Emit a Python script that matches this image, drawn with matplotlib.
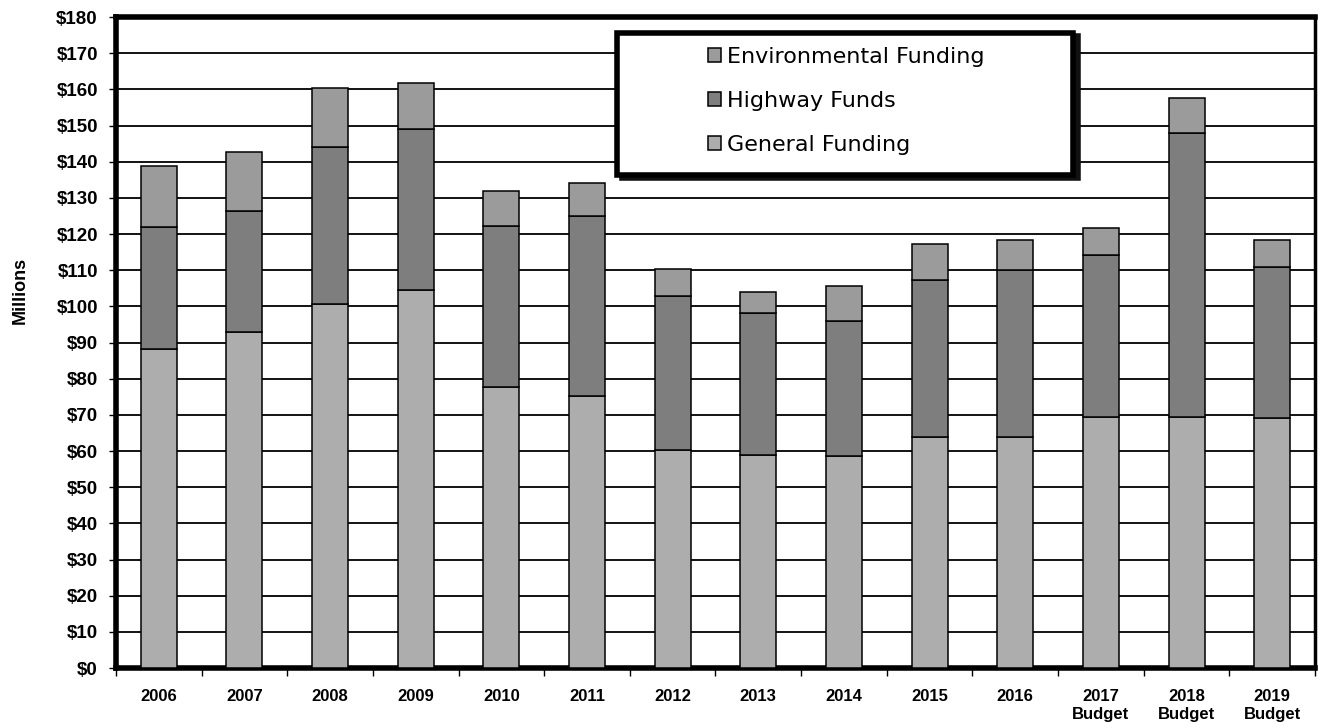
import matplotlib
matplotlib.use("Agg")
import numpy as np
import matplotlib.pyplot as plt
from matplotlib.patches import Rectangle

# Category labels (x axis)
years = ["2006", "2007", "2008", "2009", "2010", "2011", "2012", "2013",
         "2014", "2015", "2016", "2017\nBudget", "2018\nBudget", "2019\nBudget"]

# Stacked segments, in $ millions
general_funding = [88.1, 93.0, 100.7, 104.5, 77.7, 75.1, 60.2, 58.9,
                   58.6, 63.8, 63.8, 69.3, 69.3, 69.2]
highway_funds = [33.8, 33.3, 43.5, 44.5, 44.6, 49.8, 42.6, 39.3,
                 37.4, 43.5, 46.2, 45.0, 78.5, 41.7]
environmental_funding = [16.8, 16.4, 16.3, 12.8, 9.5, 9.1, 7.4, 5.7,
                         9.5, 9.9, 8.4, 7.5, 9.7, 7.5]

y_ticks = list(range(0, 181, 10))

c_general = "#adadad"
c_highway = "#7e7e7e"
c_env = "#9b9b9b"

fig = plt.figure(figsize=(13.22, 7.28), dpi=100)
ax = fig.add_axes([0.0877, 0.0824, 0.9070, 0.8942])

x = np.arange(len(years))
w = 0.42
general = np.array(general_funding)
highway = np.array(highway_funds)
env = np.array(environmental_funding)

ax.bar(x, general, w, color=c_general, edgecolor="black", linewidth=1.1, zorder=3, label="General Funding")
ax.bar(x, highway, w, bottom=general, color=c_highway, edgecolor="black", linewidth=1.1, zorder=3, label="Highway Funds")
ax.bar(x, env, w, bottom=general + highway, color=c_env, edgecolor="black", linewidth=1.1, zorder=3, label="Environmental Funding")

ax.set_xlim(-0.48, 13.43)
ax.set_ylim(0, 180)

# grid
ax.set_yticks(y_ticks)
ax.set_yticklabels([f"${v}" for v in y_ticks], fontsize=13.5, fontweight="bold",
                   family=["Liberation Sans", "DejaVu Sans"])
ax.yaxis.grid(True, color="black", linewidth=1.3, zorder=0)
ax.tick_params(axis="y", length=5, width=1, pad=8)

ax.set_xticks(x)
ax.set_xticklabels(years, fontsize=12, fontweight="bold",
                   family=["Liberation Sans Narrow", "Liberation Sans", "DejaVu Sans"],
                   linespacing=1.25)
ax.set_xticks(np.arange(-0.5, len(years), 1.0), minor=True)
ax.tick_params(axis="x", which="major", length=0, pad=15)
ax.tick_params(axis="x", which="minor", length=6, width=1)

for side in ["left", "top", "bottom"]:
    ax.spines[side].set_linewidth(4)
ax.spines["right"].set_linewidth(2.5)

ax.set_ylabel("Millions", fontsize=13, fontweight="bold",
              family=["Liberation Sans", "DejaVu Sans"])
ax.yaxis.set_label_coords(-0.073, 0.58)

# legend frame with dark shadow on right/bottom
ax.add_patch(Rectangle((0.422, 0.753), 0.38, 0.218, transform=ax.transAxes,
                       facecolor="#111111", edgecolor="#111111", linewidth=4, zorder=5))
ax.add_patch(Rectangle((0.418, 0.757), 0.38, 0.218, transform=ax.transAxes,
                       facecolor="white", edgecolor="black", linewidth=4, zorder=6))

handles, labels = ax.get_legend_handles_labels()
leg = ax.legend(handles[::-1], labels[::-1], loc="center left",
                bbox_to_anchor=(0.477, 0.871), frameon=False,
                handlelength=0.6, handleheight=0.6,
                handletextpad=0.25, labelspacing=1.08,
                prop={"family": ["DejaVu Sans"], "size": 16})
leg.set_zorder(7)

fig.savefig("out.png", dpi=100)
